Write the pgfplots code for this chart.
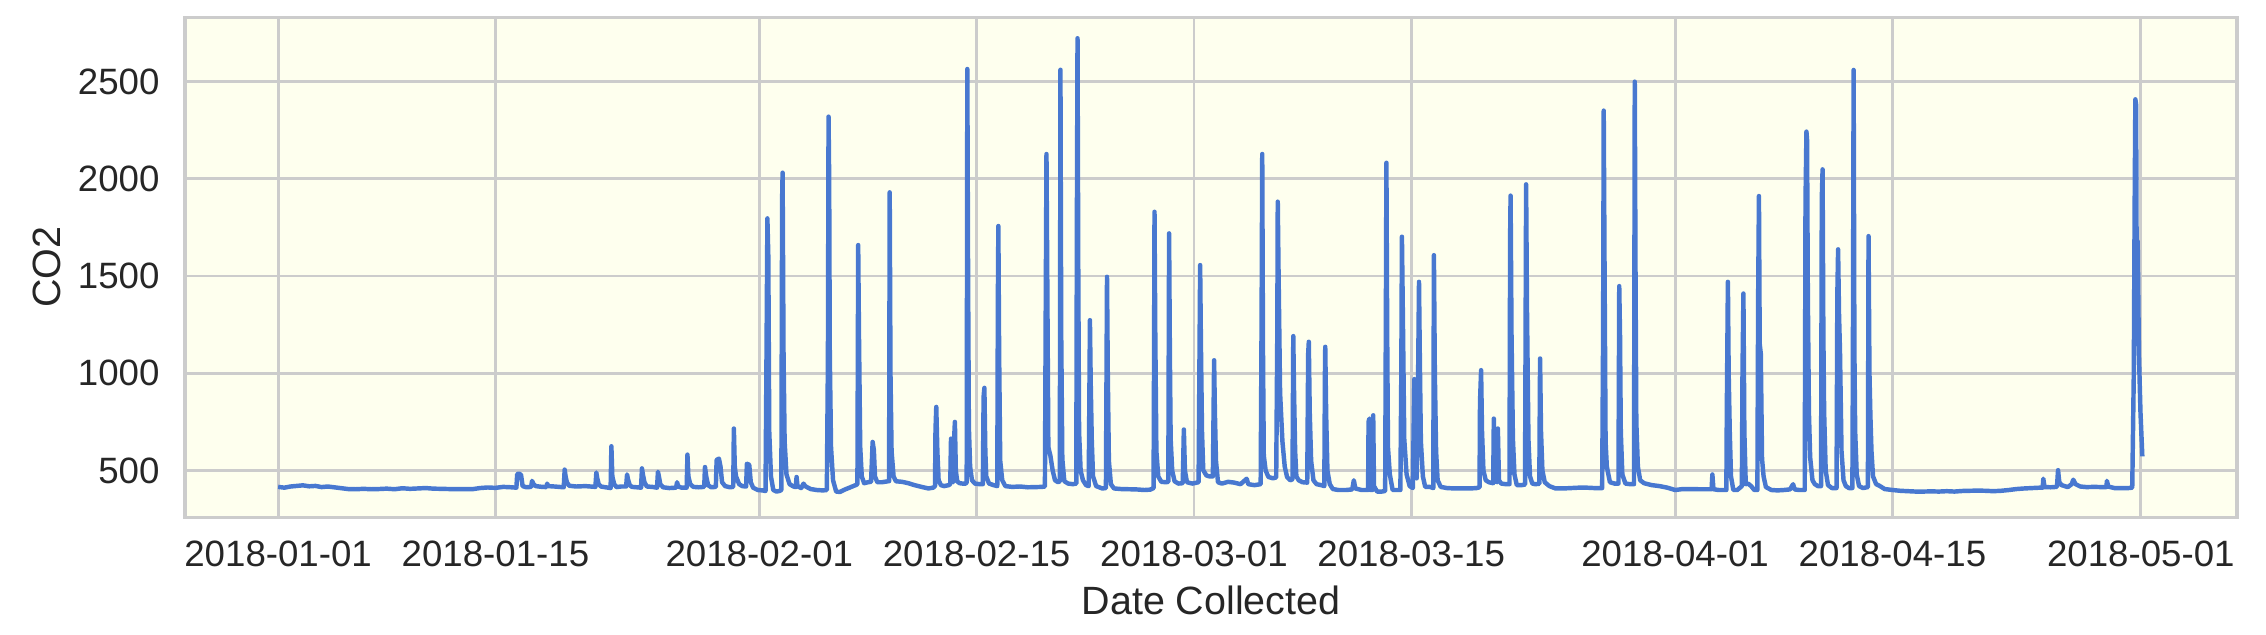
\documentclass[border=0pt]{standalone}
\usepackage{pgfplots}
\pgfplotsset{compat=1.18}
\usepackage{fontspec}
\setmainfont{Liberation Sans}
\definecolor{bgc}{HTML}{FEFFEE}
\definecolor{gridc}{HTML}{CCCCCC}
\definecolor{txt}{HTML}{262626}
\definecolor{linec}{HTML}{4878D0}
\begin{document}
\begin{tikzpicture}
\useasboundingbox (-66.6pt,-42.1pt) rectangle (749.14pt,186.2pt);
\begin{axis}[
  at={(0,0)}, anchor=south west,
  scale only axis, width=738.7pt, height=180pt,
  xmin=-6, xmax=126.2, ymin=260, ymax=2830,
  axis background/.style={fill=bgc},
  axis line style={gridc, line width=1.1pt},
  grid=major, major grid style={gridc, line width=1.0pt},
  major tick length=0pt,
  xtick={0,14,31,45,59,73,90,104,120},
  xticklabels={2018-01-01,2018-01-15,2018-02-01,2018-02-15,2018-03-01,2018-03-15,2018-04-01,2018-04-15,2018-05-01},
  ytick={500,1000,1500,2000,2500},
  scaled y ticks=false,
  /pgf/number format/assume math mode=true,
  /pgf/number format/1000 sep={},
  tick label style={font=\fontsize{13.2pt}{15pt}\selectfont, text=txt, inner sep=0pt},
  xticklabel style={anchor=north, yshift=-8.3pt},
  yticklabel style={anchor=east, xshift=-9pt},
  xlabel={Date Collected}, ylabel={CO2},
  label style={font=\fontsize{14.2pt}{16pt}\selectfont, text=txt, inner sep=0pt},
  xlabel style={at={(axis description cs:0.5,-0.1361)}, anchor=north},
  ylabel style={at={(axis description cs:-0.06,0.5)}, anchor=south},
  clip=true,
]
\addplot[linec, line width=1.6pt, line join=round, mark=none] coordinates {
(0,416)(0.4,412)(0.8,418)(1.2,421)(1.6,424)(2.0,419)(2.4,421)(2.8,415)(3.2,418)(3.6,414)(4.0,410)(4.5,405)(5.0,404)(5.5,406)(6.0,404)(6.5,405)(7.0,407)(7.5,404)(8.0,409)(8.5,406)(9.0,408)(9.5,410)(10.0,407)(10.5,406)(11.0,405)(11.5,405)(12.0,405)(12.5,404)(13.0,410)(13.5,413)(14.0,411)(14.5,416)(15.0,414)(15.35,412)
(15.4,480)(15.5,485)(15.65,478)(15.75,420)(16.0,414)
(16.3,416)(16.36,447)(16.45,430)(16.6,420)(17.0,416)
(17.28,415)(17.33,433)(17.4,420)(17.8,418)
(18.4,414)(18.46,505)(18.52,470)(18.6,440)(18.75,422)(19.2,418)(19.8,420)
(20.44,416)(20.5,490)(20.56,460)(20.65,430)(20.8,418)(21.1,414)
(21.42,410)(21.47,625)(21.53,470)(21.65,430)(21.8,415)(22.1,418)
(22.42,418)(22.48,480)(22.54,455)(22.65,425)(22.8,416)(23.1,414)
(23.38,412)(23.44,511)(23.5,480)(23.6,440)(23.75,418)(24.1,416)
(24.41,412)(24.47,494)(24.53,470)(24.62,430)(24.8,414)(25.2,410)
(25.64,412)(25.7,440)(25.78,418)(26.0,412)
(26.32,412)(26.37,582)(26.43,470)(26.55,430)(26.75,416)(27.1,414)
(27.45,416)(27.5,518)(27.58,470)(27.7,425)(27.9,414)
(28.2,416)(28.25,555)(28.4,561)(28.5,520)(28.6,440)(28.8,420)(29.1,414)
(29.32,416)(29.36,716)(29.42,520)(29.5,470)(29.7,430)(29.9,420)
(30.15,418)(30.2,535)(30.35,530)(30.45,440)(30.6,412)(30.9,400)(31.2,398)
(31.4,395)(31.47,1172)(31.52,1796)(31.58,1600)(31.64,700)(31.75,470)(31.9,400)(32.1,392)(32.3,395)
(32.42,400)(32.47,1900)(32.5,2031)(32.56,1100)(32.63,650)(32.75,480)(32.95,430)(33.2,418)
(33.35,415)(33.4,467)(33.46,420)(33.7,410)(33.85,433)(33.95,420)(34.3,405)(34.7,400)(35.1,398)(35.35,400)
(35.42,1075)(35.46,2319)(35.5,2000)(35.54,1100)(35.62,620)(35.75,450)(35.95,392)(36.2,390)(36.5,402)(36.9,415)(37.2,425)
(37.32,430)(37.37,1659)(37.42,1200)(37.5,622)(37.6,470)(37.75,435)(38.0,440)
(38.2,442)(38.3,647)(38.38,605)(38.45,470)(38.6,440)(38.9,440)(39.3,445)
(39.36,445)(39.4,1930)(39.45,1000)(39.52,600)(39.65,470)(39.8,445)(40.2,442)(40.6,435)(41.0,425)(41.5,415)(41.9,408)(42.2,412)
(42.32,420)(42.35,708)(42.4,827)(42.47,600)(42.55,450)(42.7,425)(42.9,420)(43.2,425)
(43.3,430)(43.35,664)(43.42,470)(43.5,440)(43.56,680)(43.6,750)(43.66,500)(43.75,445)(43.9,435)(44.1,433)(44.3,433)
(44.36,440)(44.4,2564)(44.45,1500)(44.5,725)(44.58,520)(44.7,450)(44.9,433)(45.2,430)(45.4,430)
(45.45,880)(45.5,925)(45.56,600)(45.62,470)(45.8,433)(46.1,425)
(46.33,420)(46.37,1400)(46.4,1757)(46.45,1100)(46.52,550)(46.65,450)(46.85,420)(47.3,416)(47.8,418)(48.3,414)(48.8,415)(49.2,416)(49.4,418)
(49.45,1300)(49.5,2127)(49.55,1500)(49.62,620)(49.75,577)(49.9,500)(50.05,450)(50.25,440)
(50.36,445)(50.4,2560)(50.45,1200)(50.52,560)(50.65,445)(50.9,433)(51.2,430)
(51.42,433)(51.46,1800)(51.5,2722)(51.55,1500)(51.6,700)(51.7,500)(51.85,450)(52.05,425)
(52.22,420)(52.3,1273)(52.35,950)(52.42,650)(52.5,470)(52.7,420)(53.1,408)
(53.33,410)(53.4,1496)(53.45,1000)(53.52,550)(53.65,430)(53.85,408)(54.3,405)(54.8,404)(55.3,403)(55.8,400)(56.2,402)(56.4,410)
(56.43,1065)(56.46,1830)(56.51,1200)(56.58,600)(56.7,470)(56.9,442)(57.2,440)
(57.35,442)(57.4,1719)(57.45,1100)(57.5,662)(57.6,500)(57.75,445)(58.0,433)
(58.28,435)(58.35,711)(58.42,500)(58.55,440)(58.9,433)(59.3,440)
(59.35,1000)(59.4,1556)(59.45,1150)(59.52,700)(59.6,502)(59.8,475)(60.0,470)
(60.22,470)(60.3,1067)(60.35,800)(60.42,550)(60.55,440)(60.8,433)(61.2,442)(61.6,438)(62.0,430)(62.4,458)(62.5,430)(62.9,425)(63.3,430)
(63.36,1300)(63.4,2127)(63.45,1100)(63.5,577)(63.62,500)(63.8,467)(64.1,460)(64.3,465)
(64.37,1200)(64.4,1882)(64.45,1530)(64.55,900)(64.7,650)(64.85,520)(65.0,467)(65.2,450)
(65.35,455)(65.4,1191)(65.45,900)(65.52,600)(65.6,470)(65.75,450)(66.0,440)(66.3,438)
(66.36,1100)(66.4,1162)(66.46,800)(66.55,550)(66.7,450)(66.9,430)(67.2,425)(67.4,420)
(67.44,1000)(67.46,1136)(67.52,780)(67.6,500)(67.75,430)(67.95,405)(68.3,400)(68.8,400)(69.2,403)(69.3,450)(69.4,408)(69.8,400)
(70.22,400)(70.25,750)(70.3,767)(70.36,400)(70.5,400)(70.55,784)(70.6,420)(70.8,392)(71.1,392)
(71.32,395)(71.37,1400)(71.4,2082)(71.45,1200)(71.5,620)(71.62,480)(71.8,400)(72.1,400)
(72.3,400)(72.36,1000)(72.4,1702)(72.46,1300)(72.55,662)(72.7,480)(72.9,420)(73.1,410)
(73.2,970)(73.27,600)(73.35,460)(73.42,800)(73.5,1470)(73.55,1100)(73.62,650)(73.75,470)(73.9,416)(74.2,416)
(74.42,410)(74.46,1607)(74.52,1000)(74.6,600)(74.7,450)(74.9,416)(75.3,410)(75.8,408)(76.3,408)(76.8,408)(77.2,410)(77.4,414)
(77.43,850)(77.5,1016)(77.56,700)(77.65,500)(77.8,450)(78.0,440)
(78.28,435)(78.32,767)(78.38,450)(78.52,440)(78.58,716)(78.65,450)(78.8,433)(79.1,430)
(79.33,430)(79.37,1700)(79.4,1913)(79.46,1200)(79.55,662)(79.65,480)(79.8,425)(80.1,425)
(80.33,428)(80.38,1500)(80.4,1971)(80.46,1300)(80.55,662)(80.65,470)(80.8,433)(81.0,430)
(81.25,432)(81.3,1076)(81.36,700)(81.45,500)(81.6,440)(81.9,420)(82.3,408)(82.8,408)(83.3,410)(83.8,412)(84.3,412)(84.8,410)(85.3,410)
(85.36,1200)(85.4,2350)(85.45,1600)(85.52,650)(85.6,520)(85.8,440)(86.1,433)
(86.35,433)(86.4,1448)(86.45,1200)(86.5,700)(86.6,480)(86.8,433)(87.1,430)
(87.35,430)(87.4,2499)(87.45,1500)(87.5,750)(87.6,520)(87.75,450)(88.0,435)(88.5,425)(89.0,420)(89.5,412)(90.0,400)(90.5,405)(91.0,405)(91.5,404)(92.0,404)
(92.35,404)(92.4,480)(92.47,404)(92.8,400)(93.3,400)
(93.33,800)(93.4,1470)(93.45,1000)(93.52,700)(93.6,470)(93.75,400)(94.0,400)(94.3,420)
(94.34,1000)(94.4,1410)(94.46,700)(94.55,430)(94.7,433)(94.9,420)(95.1,400)(95.3,400)
(95.35,1400)(95.4,1911)(95.45,1150)(95.52,1100)(95.6,560)(95.7,470)(95.85,415)(96.2,400)(96.6,398)(97.0,400)(97.4,403)(97.6,430)(97.7,403)(98.0,400)(98.35,400)
(98.4,1880)(98.46,2242)(98.5,2200)(98.55,1400)(98.62,800)(98.7,567)(98.85,450)(99.0,430)(99.2,420)(99.4,420)
(99.45,1900)(99.5,2048)(99.55,1200)(99.6,800)(99.7,500)(99.85,425)(100.1,410)(100.4,410)
(100.45,1400)(100.5,1637)(100.56,1300)(100.62,1120)(100.72,600)(100.85,450)(101.0,420)(101.2,410)(101.42,410)
(101.45,1000)(101.5,2559)(101.55,1115)(101.6,700)(101.7,480)(101.85,420)(102.1,410)(102.42,415)
(102.46,1705)(102.52,1000)(102.58,783)(102.65,600)(102.75,470)(102.95,430)(103.2,420)(103.5,405)(104.0,400)(104.5,396)(105,394)(105.5,392)(106,392)(106.5,393)(107,392)(107.5,394)(108,392)(108.5,395)(109,396)(109.5,397)(110,396)(110.5,394)(111,396)(111.5,400)(112,405)(112.5,408)(113,410)(113.5,412)(113.68,412)(113.72,458)(113.8,415)(114.2,414)(114.6,416)(114.67,502)(114.75,440)(114.9,425)(115.3,415)(115.55,430)(115.65,453)(115.8,430)(116.1,418)(116.5,415)(117,416)(117.5,415)(117.78,415)(117.82,447)(117.9,418)(118.3,410)(118.8,410)(119.2,410)(119.45,412)
(119.55,1000)(119.6,1800)(119.65,2408)(119.7,2380)(119.75,1150)(119.8,1678)(119.88,1100)(119.98,800)(120.1,573)
};
\end{axis}
\end{tikzpicture}
\end{document}
